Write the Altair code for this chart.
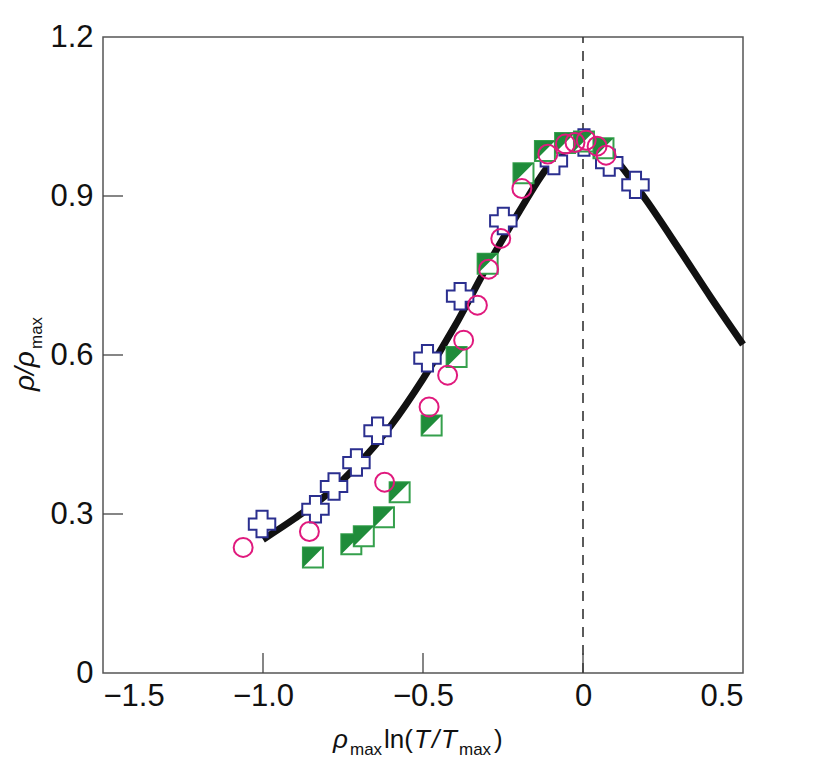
import altair as alt
import pandas as pd

# ---- data ----
curve_x = [-1.0, -0.9, -0.8, -0.7, -0.6, -0.5, -0.4, -0.3, -0.2, -0.1,
           -0.05, 0.0, 0.05, 0.10, 0.15, 0.20, 0.30, 0.40, 0.50]
curve_y = [0.252, 0.292, 0.337, 0.395, 0.467, 0.555, 0.655, 0.767, 0.870, 0.962,
           0.988, 1.0, 0.99, 0.97, 0.932, 0.89, 0.80, 0.708, 0.62]

cross_x = [-1.003, -0.836, -0.778, -0.708, -0.642, -0.486, -0.384, -0.249,
           -0.091, 0.003, 0.082, 0.164]
cross_y = [0.281, 0.309, 0.352, 0.397, 0.457, 0.594, 0.711, 0.853,
           0.966, 1.001, 0.963, 0.921]

circle_x = [-1.062, -0.855, -0.620, -0.481, -0.423, -0.373, -0.330, -0.295,
            -0.257, -0.191, -0.110, -0.055, -0.025, 0.010, 0.044, 0.072]
circle_y = [0.237, 0.267, 0.360, 0.502, 0.562, 0.628, 0.694, 0.762,
            0.820, 0.914, 0.979, 0.998, 1.001, 1.005, 0.994, 0.977]

square_x = [-0.844, -0.724, -0.685, -0.622, -0.573, -0.473, -0.395, -0.298,
            -0.186, -0.119, -0.056, 0.003, 0.064]
square_y = [0.218, 0.243, 0.258, 0.294, 0.341, 0.467, 0.596, 0.772,
            0.943, 0.985, 1.0, 1.003, 0.99]

x_ticks = [-1.5, -1.0, -0.5, 0.0, 0.5]
y_ticks = [0.0, 0.3, 0.6, 0.9, 1.2]
x_inner_ticks = [-1.0, -0.5, 0.0]
y_inner_ticks = [0.3, 0.6, 0.9]
x_domain = [-1.5, 0.5]
y_domain = [0.0, 1.2]

W, H = 640, 636
FONT = "Liberation Sans, Arial, Helvetica, sans-serif"
NAVY = "#2B2F8F"
MAGENTA = "#E0197D"
GREEN_FILL = "#1F8C3A"
GREEN_STROKE = "#35A04C"

xs = alt.Scale(domain=x_domain, nice=False, zero=False)
ys = alt.Scale(domain=y_domain, nice=False, zero=False)

xaxis = alt.Axis(values=x_ticks, title=None,
                 labelExpr="datum.value == 0 ? '0' : format(datum.value, '.1f')")
yaxis = alt.Axis(values=y_ticks, title=None,
                 labelExpr="datum.value == 0 ? '0' : format(datum.value, '.1f')")

curve_df = pd.DataFrame({"x": curve_x, "y": curve_y})
cross_df = pd.DataFrame({"x": cross_x, "y": cross_y})
circle_df = pd.DataFrame({"x": circle_x, "y": circle_y})
square_df = pd.DataFrame({"x": square_x, "y": square_y})
vline_df = pd.DataFrame({"x": [0.0], "y": [y_domain[0]], "y2": [y_domain[1]]})
xt_df = pd.DataFrame({"x": x_inner_ticks})
yt_df = pd.DataFrame({"y": y_inner_ticks})

base_axes = alt.Chart(curve_df).mark_point(opacity=0).encode(
    x=alt.X("x:Q", scale=xs, axis=xaxis),
    y=alt.Y("y:Q", scale=ys, axis=yaxis),
)

vline = alt.Chart(vline_df).mark_rule(color="#333", strokeWidth=1.6, strokeDash=[10, 8]).encode(
    x=alt.X("x:Q", scale=xs), y=alt.Y("y:Q", scale=ys), y2="y2:Q")

xt = alt.Chart(xt_df).mark_rule(color="#444", strokeWidth=1.3).encode(
    x=alt.X("x:Q", scale=xs), y=alt.value(H), y2=alt.value(H - 20))
yt = alt.Chart(yt_df).mark_rule(color="#444", strokeWidth=1.3).encode(
    y=alt.Y("y:Q", scale=ys), x=alt.value(0), x2=alt.value(20))

line = alt.Chart(curve_df).mark_line(color="#111", strokeWidth=7, interpolate="monotone",
                                     strokeCap="butt").encode(
    x=alt.X("x:Q", scale=xs), y=alt.Y("y:Q", scale=ys))

a = 0.42
cross_path = (f"M -{a} -1 L {a} -1 L {a} -{a} L 1 -{a} L 1 {a} L {a} {a} L {a} 1 "
              f"L -{a} 1 L -{a} {a} L -1 {a} L -1 -{a} L -{a} -{a} Z")
crosses = alt.Chart(cross_df).mark_point(shape=cross_path, filled=True, fill="white",
                                         stroke=NAVY, strokeWidth=2, size=700, opacity=1).encode(
    x=alt.X("x:Q", scale=xs), y=alt.Y("y:Q", scale=ys))

sq_base = alt.Chart(square_df).mark_point(shape="square", filled=True, fill="white",
                                          stroke=GREEN_STROKE, strokeWidth=2, size=400, opacity=1).encode(
    x=alt.X("x:Q", scale=xs), y=alt.Y("y:Q", scale=ys))
sq_tri = alt.Chart(square_df).mark_point(shape="M -1 -1 L 1 -1 L -1 1 Z", filled=True,
                                         fill=GREEN_FILL, strokeWidth=0, size=400, opacity=1).encode(
    x=alt.X("x:Q", scale=xs), y=alt.Y("y:Q", scale=ys))

circles = alt.Chart(circle_df).mark_point(shape="circle", filled=False, stroke=MAGENTA,
                                          strokeWidth=2, size=360, opacity=1).encode(
    x=alt.X("x:Q", scale=xs), y=alt.Y("y:Q", scale=ys))

one = pd.DataFrame({"a": [0]})


def txt(s, x, y, size, italic=False, angle=0):
    kw = dict(text=s, font=FONT, fontSize=size, color="#111", align="left",
              baseline="alphabetic", angle=angle)
    if italic:
        kw["fontStyle"] = "italic"
    return alt.Chart(one).mark_text(**kw).encode(x=alt.value(x), y=alt.value(y))


# x title: rho_max ln(T/T_max)
MS, SS = 26, 17
xt1 = txt("ρ", 230, 711, MS, italic=True)
xt2 = txt("max", 247, 718, SS)
xt3 = txt("ln(", 281, 711, MS)
xt4 = txt("T", 311, 711, MS, italic=True)
xt5 = txt("/", 329, 711, MS, italic=True)
xt6 = txt("T", 338, 711, MS, italic=True)
xt7 = txt("max", 356, 718, SS)
xt8 = txt(")", 391, 711, MS)

# y title: rho / rho_max (rotated)
yt1 = txt("ρ/ρ", -69, 354, 28, italic=True, angle=270)
yt2 = txt("max", -61, 312, SS, angle=270)

chart = alt.layer(
    base_axes, vline, xt, yt, line, crosses, sq_base, sq_tri, circles,
    xt1, xt2, xt3, xt4, xt5, xt6, xt7, xt8, yt1, yt2
).properties(
    width=W, height=H,
    autosize=alt.AutoSizeParams(type="none"),
    padding={"left": 95, "top": 29, "right": 70, "bottom": 97},
).configure_view(
    stroke="#555", strokeWidth=1.5
).configure_axis(
    domain=False, ticks=False, grid=False, tickSize=0,
    labelFont=FONT, labelFontSize=31, labelColor="#111"
).configure_axisX(labelPadding=8).configure_axisY(labelPadding=10)

chart.save("out.html", embed_options={"renderer": "svg", "actions": False})
